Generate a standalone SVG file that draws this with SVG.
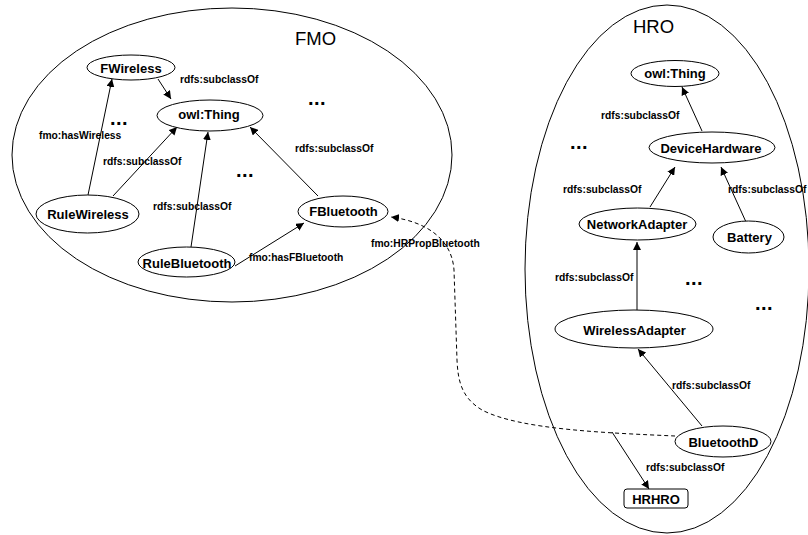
<svg xmlns="http://www.w3.org/2000/svg" width="808" height="535" viewBox="0 0 808 535">
<defs>
<marker id="ah" viewBox="0 0 10 10" refX="10" refY="5" markerWidth="8" markerHeight="8" markerUnits="userSpaceOnUse" orient="auto">
<path d="M0,0 L10,5 L0,10 z" fill="#000"/>
</marker>
<style>
.bound{fill:none;stroke:#000;stroke-width:1}
.node{fill:#fff;stroke:#000;stroke-width:1}
.nt{font-family:"Liberation Sans",Arial,sans-serif;font-weight:bold;font-size:13px;text-anchor:middle;fill:#000}
.et{font-family:"Liberation Sans",Arial,sans-serif;font-weight:bold;font-size:10.3px;fill:#000}
.dots{font-family:"Liberation Sans",Arial,sans-serif;font-weight:bold;font-size:20px;letter-spacing:0.5px;fill:#000}
.title{font-family:"Liberation Sans",Arial,sans-serif;font-size:18.5px;fill:#000}
.edge{fill:none;stroke:#000;stroke-width:1;marker-end:url(#ah)}
.dash{stroke-dasharray:4,3}
</style>
</defs>
<rect width="808" height="535" fill="#fff"/>
<g id="fmo-boundary">
<ellipse class="bound" cx="232" cy="155" rx="220" ry="147"/>
<text class="title" x="295" y="45">FMO</text>
</g>
<g id="hro-boundary">
<ellipse class="bound" cx="667" cy="269" rx="142" ry="264"/>
<text class="title" x="633" y="33">HRO</text>
</g>
<g id="connectors">
<path class="edge" d="M158,79 L171,99"/>
<path class="edge" d="M88,195 L112,79"/>
<path class="edge" d="M113,196 L177,127"/>
<path class="edge" d="M191,247 L208,132"/>
<path class="edge" d="M318,196 L250,127"/>
<path class="edge" d="M235,266 L304,223"/>
<path class="edge dash" d="M675,436 C610,433 520,430 482,410 C462,398 458,382 457,360 L454,270 C452,240 428,222 391,217"/>
<path class="edge" d="M702,131 L682,87"/>
<path class="edge" d="M650,207 L675,167"/>
<path class="edge" d="M746,222 L721,167"/>
<path class="edge" d="M637,310 L637,242"/>
<path class="edge" d="M702,426 L638,349"/>
<path class="edge" d="M612,432 L649,489"/>
<text class="et" x="180" y="83">rdfs:subclassOf</text>
<text class="et" x="39" y="139">fmo:hasWireless</text>
<text class="et" x="103" y="165">rdfs:subclassOf</text>
<text class="et" x="153" y="210">rdfs:subclassOf</text>
<text class="et" x="295" y="152">rdfs:subclassOf</text>
<text class="et" x="249" y="261">fmo:hasFBluetooth</text>
<text class="et" x="371" y="247">fmo:HRPropBluetooth</text>
<text class="et" x="601" y="119">rdfs:subclassOf</text>
<text class="et" x="563" y="193">rdfs:subclassOf</text>
<text class="et" x="728" y="193">rdfs:subclassOf</text>
<text class="et" x="555" y="281">rdfs:subclassOf</text>
<text class="et" x="672" y="389">rdfs:subclassOf</text>
<text class="et" x="646" y="471">rdfs:subclassOf</text>
</g>
<g id="dots">
<text class="dots" x="308" y="105">...</text>
<text class="dots" x="110" y="125">...</text>
<text class="dots" x="236" y="177">...</text>
<text class="dots" x="570" y="149">...</text>
<text class="dots" x="685" y="285">...</text>
<text class="dots" x="755" y="310">...</text>
</g>
<g id="fmo-fwireless">
<ellipse class="node" cx="131" cy="67.5" rx="44" ry="12.5"/>
<text class="nt" x="131" y="73">FWireless</text>
</g>
<g id="fmo-owlthing">
<ellipse class="node" cx="210" cy="115.5" rx="53" ry="15.5"/>
<text class="nt" x="209" y="119">owl:Thing</text>
</g>
<g id="fmo-rulewireless">
<ellipse class="node" cx="87.5" cy="214" rx="51.5" ry="19"/>
<text class="nt" x="88" y="219">RuleWireless</text>
</g>
<g id="fmo-fbluetooth">
<ellipse class="node" cx="343" cy="211.5" rx="45" ry="15.5"/>
<text class="nt" x="343.5" y="216">FBluetooth</text>
</g>
<g id="fmo-rulebluetooth">
<ellipse class="node" cx="186.5" cy="262" rx="48.5" ry="15"/>
<text class="nt" x="187" y="268">RuleBluetooth</text>
</g>
<g id="hro-owlthing">
<ellipse class="node" cx="675" cy="73.5" rx="44" ry="13"/>
<text class="nt" x="675" y="78">owl:Thing</text>
</g>
<g id="hro-devicehardware">
<ellipse class="node" cx="712" cy="147.5" rx="63" ry="15.5"/>
<text class="nt" x="711" y="153">DeviceHardware</text>
</g>
<g id="hro-networkadapter">
<ellipse class="node" cx="637.5" cy="224" rx="58.5" ry="16"/>
<text class="nt" x="637" y="229">NetworkAdapter</text>
</g>
<g id="hro-battery">
<ellipse class="node" cx="748.5" cy="237" rx="35.5" ry="16"/>
<text class="nt" x="749.5" y="242">Battery</text>
</g>
<g id="hro-wirelessadapter">
<ellipse class="node" cx="634" cy="329" rx="79" ry="19"/>
<text class="nt" x="634.5" y="335">WirelessAdapter</text>
</g>
<g id="hro-bluetoothd">
<ellipse class="node" cx="723" cy="441.5" rx="48" ry="15.5"/>
<text class="nt" x="723.5" y="447">BluetoothD</text>
</g>
<g id="hro-hrhro">
<rect class="node" x="624" y="489" width="64" height="19" rx="3" ry="3"/>
<text class="nt" x="656" y="504">HRHRO</text>
</g>
</svg>
